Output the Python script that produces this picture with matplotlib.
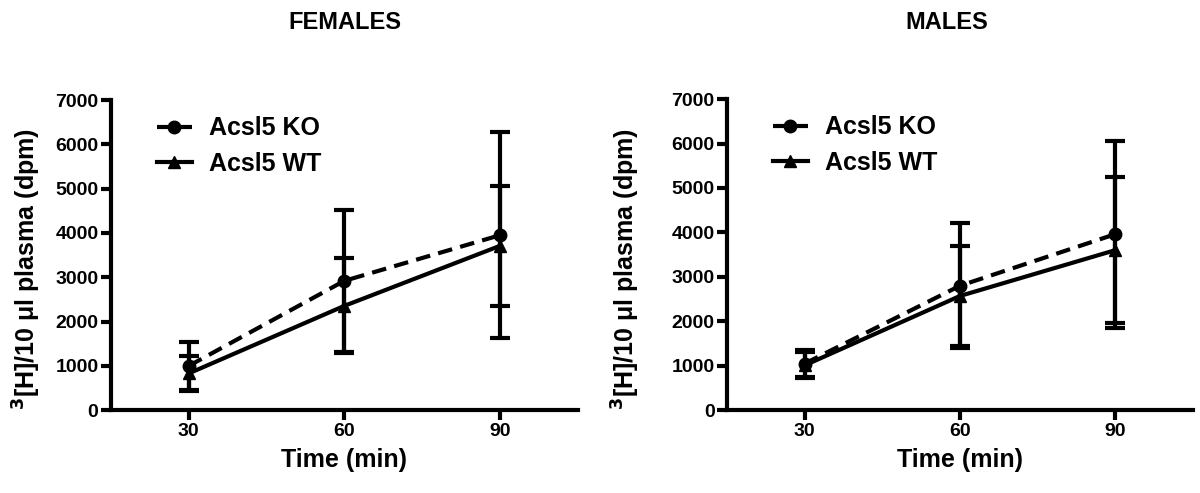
import numpy as np
import matplotlib.pyplot as plt
from matplotlib.lines import Line2D

plt.rcParams['font.family'] = ['Liberation Sans', 'DejaVu Sans']
plt.rcParams['font.weight'] = 'bold'

# Time points (min)
times = [30, 60, 90]

# Females
fem_ko_mean = [1000, 2920, 3950]
fem_ko_err = [550, 1600, 2330]
fem_wt_mean = [830, 2355, 3710]
fem_wt_err = [400, 1070, 1350]

# Males
male_ko_mean = [1050, 2800, 3960]
male_ko_err = [310, 1410, 2100]
male_wt_mean = [1010, 2570, 3600]
male_wt_err = [290, 1120, 1640]

panels = [
    ('FEMALES', fem_ko_mean, fem_ko_err, fem_wt_mean, fem_wt_err),
    ('MALES', male_ko_mean, male_ko_err, male_wt_mean, male_wt_err),
]

ko_ls = (0, (3.5, 2))

fig = plt.figure(figsize=(12, 4.93), dpi=100)
ax_rects = [[0.0925, 0.168, 0.389, 0.629], [0.606, 0.168, 0.388, 0.631]]
title_x = [345 / 1200, 947 / 1200]
ylab_x = [27 / 1200, 626 / 1200]

for i, (title, ko_m, ko_e, wt_m, wt_e) in enumerate(panels):
    ax = fig.add_axes(ax_rects[i])
    ax.errorbar(times, ko_m, yerr=ko_e, color='black', lw=3, ls=ko_ls,
                marker='o', markersize=9, capsize=7, capthick=3, elinewidth=3)
    ax.errorbar(times, wt_m, yerr=wt_e, color='black', lw=3, ls='-',
                marker='^', markersize=8, capsize=7, capthick=3, elinewidth=3)
    ax.set_xlim(15, 105)
    ax.set_ylim(0, 7000)
    ax.set_xticks(times)
    ax.set_yticks(np.arange(0, 7001, 1000))
    for s in ['top', 'right']:
        ax.spines[s].set_visible(False)
    for s in ['left', 'bottom']:
        ax.spines[s].set_linewidth(3)
    ax.tick_params(width=3, length=7, labelsize=14, pad=2)
    for lab in ax.get_xticklabels() + ax.get_yticklabels():
        lab.set_fontweight('bold')
    ax.set_xlabel('Time (min)', fontsize=18, fontweight='bold', labelpad=6)
    fig.text(ylab_x[i], 0.455, '$\\mathbf{^3}$[H]/10 \u03bcl plasma (dpm)',
             rotation=90, ha='center', va='center', fontsize=18,
             fontweight='bold')
    handles = [
        Line2D([], [], color='black', lw=3, ls=ko_ls, marker='o', markersize=9),
        Line2D([], [], color='black', lw=3, ls='-', marker='^', markersize=8),
    ]
    ax.legend(handles, ['Acsl5 KO', 'Acsl5 WT'], loc='upper left',
              bbox_to_anchor=(0.05, 1.02), frameon=False, handlelength=1.4,
              handletextpad=0.7, labelspacing=0.45,
              prop={'weight': 'bold', 'size': 18})
    fig.text(title_x[i], 0.955, title, ha='center', va='center', fontsize=17,
             fontweight='bold')

fig.savefig('out.png', dpi=100)
